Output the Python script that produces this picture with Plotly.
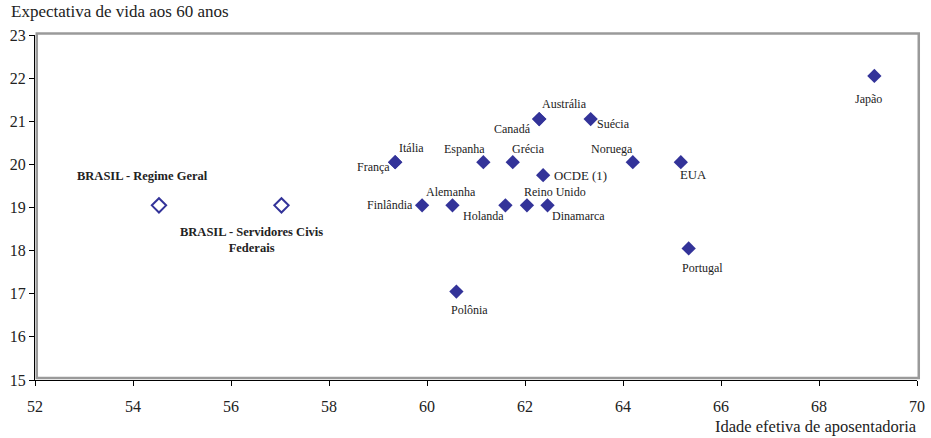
import plotly.graph_objects as go

# Data
countries = ["França", "Itália", "Finlândia", "Alemanha", "Polônia", "Espanha", "Holanda",
             "Grécia", "Reino Unido", "Canadá", "Austrália", "OCDE (1)", "Dinamarca",
             "Suécia", "Noruega", "EUA", "Portugal", "Japão"]
ret_age = [59.35, 59.35, 59.9, 60.52, 60.6, 61.15, 61.6,
           61.75, 62.04, 62.29, 62.29, 62.37, 62.46,
           63.34, 64.2, 65.18, 65.34, 69.13]
life_exp = [20.05, 20.05, 19.05, 19.05, 17.05, 20.05, 19.05,
            20.05, 19.05, 21.05, 21.05, 19.75, 19.05,
            21.05, 20.05, 20.05, 18.05, 22.05]

brasil_names = ["BRASIL - Regime Geral", "BRASIL - Servidores Civis<br>Federais"]
brasil_age = [54.53, 57.03]
brasil_life = [19.05, 19.05]

x_title = "Idade efetiva de aposentadoria"
y_title = "Expectativa de vida aos 60 anos"

# Label offsets in pixels (dx right, dy up) - positions, not data
country_offsets = {
    "França": (-22, -5), "Itália": (16, 14), "Finlândia": (-32, 0), "Alemanha": (-1, 13),
    "Polônia": (13, -18), "Espanha": (-19, 13), "Holanda": (-22, -11), "Grécia": (16, 13),
    "Reino Unido": (28, 13), "Canadá": (-27, -10), "Austrália": (25, 15), "OCDE (1)": (37, -1),
    "Dinamarca": (31, -11), "Suécia": (23, -5), "Noruega": (-21, 13), "EUA": (13, -13),
    "Portugal": (14, -20), "Japão": (-6, -23),
}
brasil_offsets = [(-16, 29), (-30, -35)]
big_labels = {"OCDE (1)", "EUA"}

COLOR = "#333399"
FONT = "Liberation Serif"
TXT = "#222222"

fig = go.Figure()
fig.add_trace(go.Scatter(
    x=ret_age, y=life_exp, mode="markers",
    marker=dict(symbol="diamond", size=11, color=COLOR, line=dict(width=0)),
    hoverinfo="text", text=countries, showlegend=False))
fig.add_trace(go.Scatter(
    x=brasil_age, y=brasil_life, mode="markers",
    marker=dict(symbol="diamond-open", size=11, color=COLOR, line=dict(width=2, color=COLOR)),
    hoverinfo="text", text=brasil_names, showlegend=False))

annotations = []
for name, xv, yv in zip(countries, ret_age, life_exp):
    dx, dy = country_offsets[name]
    annotations.append(dict(
        x=xv, y=yv, xref="x", yref="y", text=name, showarrow=False,
        xshift=dx, yshift=dy,
        font=dict(family=FONT, size=12.8 if name in big_labels else 12, color=TXT)))
for name, xv, yv, (dx, dy) in zip(brasil_names, brasil_age, brasil_life, brasil_offsets):
    annotations.append(dict(
        x=xv, y=yv, xref="x", yref="y", text="<b>" + name + "</b>", showarrow=False,
        xshift=dx, yshift=dy, align="center",
        font=dict(family=FONT, size=12.5, color=TXT)))

annotations.append(dict(
    x=0, y=1, xref="paper", yref="paper", xanchor="left", yanchor="bottom",
    xshift=-26, yshift=12, text=y_title, showarrow=False,
    font=dict(family=FONT, size=17, color=TXT)))
annotations.append(dict(
    x=1, y=0, xref="paper", yref="paper", xanchor="right", yanchor="top",
    xshift=2, yshift=-35, text=x_title, showarrow=False,
    font=dict(family=FONT, size=16.5, color=TXT)))

fig.update_layout(
    width=931, height=438,
    margin=dict(l=35, r=14, t=35, b=58),
    paper_bgcolor="white", plot_bgcolor="white",
    annotations=annotations,
    shapes=[dict(type="rect", xref="x domain", yref="y domain",
                 x0=0.002, x1=1.002, y0=0.006, y1=1.004,
                 line=dict(color="#9a9a9a", width=2.5), layer="below")],
    xaxis=dict(range=[52, 70], dtick=2, tick0=52, showgrid=False, zeroline=False,
               showline=True, linecolor="black", linewidth=1, automargin=False,
               ticks="outside", ticklen=5, tickcolor="black", ticklabelstandoff=7,
               tickfont=dict(family=FONT, size=16, color=TXT)),
    yaxis=dict(range=[15, 23], dtick=1, tick0=15, showgrid=False, zeroline=False,
               showline=True, linecolor="black", linewidth=1, automargin=False,
               ticks="outside", ticklen=5, tickcolor="black",
               tickfont=dict(family=FONT, size=16, color=TXT)),
    font=dict(family=FONT),
)

fig.write_html("out.html", config={"displayModeBar": False},
               post_script="document.body.style.margin='0';")
